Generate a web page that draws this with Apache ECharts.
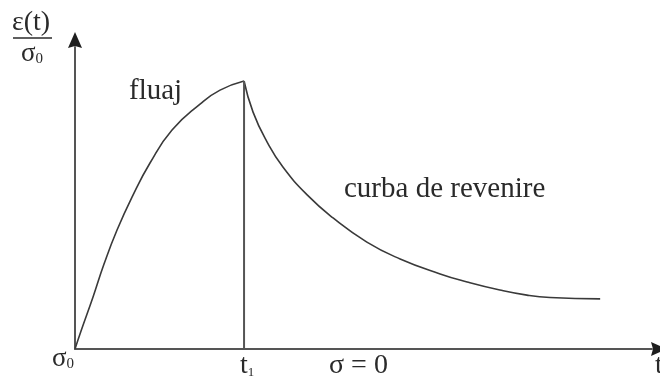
<!DOCTYPE html>
<html>
<head>
<meta charset="utf-8">
<script src="https://cdn.jsdelivr.net/npm/echarts@6/dist/echarts.min.js"></script>
<style>
  html, body { margin: 0; padding: 0; background: #fff; }
  #chart { width: 660px; height: 387px; }
</style>
</head>
<body>
<div id="chart"></div>
<script>
// Creep branch: strain ratio ε(t)/σ0 while the load is applied (0 … t1)
const creepT = [0, 0.107, 0.320, 0.515, 0.746, 1.012, 1.331, 1.722, 2.219, 2.574, 3.0];
const creepE = [0, 0.067, 0.194, 0.317, 0.444, 0.567, 0.694, 0.817, 0.914, 0.966, 1.0];

// Recovery branch after unloading at t1 (σ = 0)
const recoveryT = [3.0, 3.16, 3.41, 3.69, 4.12, 4.58, 5.18, 5.77, 6.48, 6.96, 7.54, 8.02, 8.43, 9.32];
const recoveryE = [1.0, 0.884, 0.772, 0.679, 0.575, 0.489, 0.399, 0.336, 0.280, 0.250, 0.220, 0.201, 0.192, 0.187];

// Unloading instant
const t1 = 3.0;

// Axis ranges (arbitrary units)
const tMax = 10.24;
const eMax = 1.127;

const pair = (xs, ys) => xs.map((x, i) => [x, ys[i]]);

const lineColor = '#3a3a3a';
const axisColor = '#555555';
const textColor = '#2a2a2a';
const serif = '"Liberation Serif", "DejaVu Serif", serif';

const GRID = { left: 75, top: 47, width: 577, height: 302 };

const chart = echarts.init(document.getElementById('chart'), null, { renderer: 'canvas' });

const axisCommon = {
  type: 'value',
  axisTick: { show: false },
  axisLabel: { show: false },
  splitLine: { show: false },
  axisLine: { show: true, lineStyle: { color: axisColor, width: 2 } }
};

const subscripted = (main, sub, size, subSize, drop) => ({
  text: '{s|' + main + '}{sub|' + sub + '}',
  rich: {
    s: { font: size + 'px ' + serif, fill: textColor },
    sub: { font: subSize + 'px ' + serif, fill: textColor, padding: [drop, 0, 0, 0] }
  }
});

// arrowhead at the end of each axis
const oy = GRID.top + GRID.height;       // x axis line
const ox = GRID.left;                    // y axis line
const xEnd = GRID.left + GRID.width;
const yEnd = GRID.top;

chart.setOption({
  animation: false,
  backgroundColor: '#ffffff',
  grid: Object.assign({ containLabel: false }, GRID),
  xAxis: Object.assign({}, axisCommon, { min: 0, max: tMax }),
  yAxis: Object.assign({}, axisCommon, { min: 0, max: eMax }),
  series: [
    {
      name: 'fluaj',
      type: 'line',
      data: pair(creepT, creepE),
      smooth: 0.5,
      symbol: 'none',
      lineStyle: { color: lineColor, width: 1.6 }
    },
    {
      name: 'curba de revenire',
      type: 'line',
      data: pair(recoveryT, recoveryE),
      smooth: 0.5,
      symbol: 'none',
      lineStyle: { color: lineColor, width: 1.6 }
    },
    {
      name: 't1',
      type: 'line',
      data: [[t1, 0], [t1, creepE[creepE.length - 1]]],
      symbol: 'none',
      lineStyle: { color: axisColor, width: 2 }
    }
  ],
  graphic: [
    {
      type: 'polygon',
      shape: { points: [[ox, yEnd - 15], [ox + 7, yEnd + 1], [ox, yEnd - 1], [ox - 7, yEnd + 1]] },
      style: { fill: '#1e1e1e' }
    },
    {
      type: 'polygon',
      shape: { points: [[xEnd + 15, oy], [xEnd - 1, oy - 7], [xEnd + 1, oy], [xEnd - 1, oy + 7]] },
      style: { fill: '#1e1e1e' }
    },
    // axis title: ε(t) / σ0
    {
      type: 'text', left: 12, top: 9,
      style: { text: 'ε(t)', font: '28px ' + serif, fill: textColor }
    },
    {
      type: 'line',
      shape: { x1: 13, y1: 38, x2: 52, y2: 38 },
      style: { stroke: textColor, lineWidth: 1.6 }
    },
    {
      type: 'text', left: 21, top: 40,
      style: subscripted('σ', '0', 27, 15, 12)
    },
    // curve captions
    {
      type: 'text', left: 129, top: 77,
      style: { text: 'fluaj', font: '29px ' + serif, fill: textColor }
    },
    {
      type: 'text', left: 344, top: 175,
      style: { text: 'curba de revenire', font: '29px ' + serif, fill: textColor }
    },
    // labels along the time axis
    {
      type: 'text', left: 52, top: 345,
      style: subscripted('σ', '0', 27, 15, 12)
    },
    {
      type: 'text', left: 240, top: 352,
      style: subscripted('t', '1', 28, 13, 13)
    },
    {
      type: 'text', left: 329, top: 352,
      style: { text: 'σ = 0', font: '28px ' + serif, fill: textColor }
    },
    {
      type: 'text', left: 655, top: 352,
      style: { text: 't', font: '28px ' + serif, fill: textColor }
    }
  ]
});
</script>
</body>
</html>
